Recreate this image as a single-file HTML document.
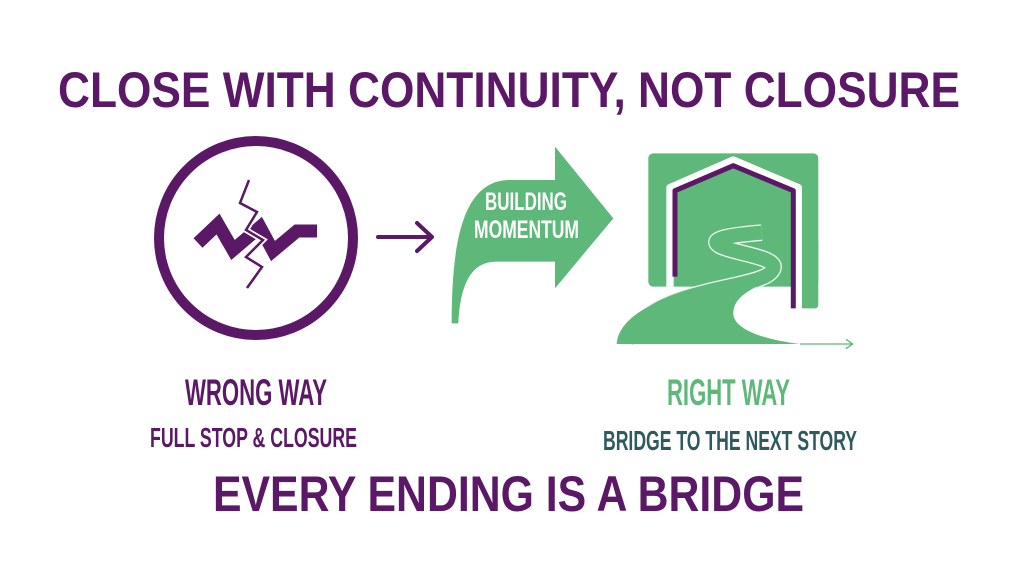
<!DOCTYPE html>
<html><head><meta charset="utf-8"><style>
html,body{margin:0;padding:0;background:#fff}
svg{display:block}
text{font-family:"Liberation Sans",sans-serif;font-weight:bold}
</style></head><body>
<svg width="1024" height="576" viewBox="0 0 1024 576" xmlns="http://www.w3.org/2000/svg">
<rect width="1024" height="576" fill="#fff"/>
<text x="58" y="107" font-size="50" fill="#5a1866" textLength="902" lengthAdjust="spacingAndGlyphs">CLOSE WITH CONTINUITY, NOT CLOSURE</text>

<circle cx="256" cy="238" r="97" fill="none" stroke="#5a1866" stroke-width="10"/>
<polyline points="198,243 218,224 233,250 260,227 273,251 297,231 317,231" fill="none" stroke="#5a1866" stroke-width="13" stroke-linejoin="miter"/>
<polyline points="249,180 240,203 257,212 246,230 263,240 246,257 262,267 247,288" fill="none" stroke="#fff" stroke-width="6"/>
<polyline points="249,180 240,203 257,212 246,230 263,240 246,257 262,267 247,288" fill="none" stroke="#5a1866" stroke-width="2.5"/>

<line x1="378" y1="237" x2="430" y2="237" stroke="#5a1866" stroke-width="4" stroke-linecap="round"/>
<polyline points="417,223 432,237 417,251" fill="none" stroke="#5a1866" stroke-width="4" stroke-linecap="round" stroke-linejoin="round"/>

<g transform="translate(440,140) scale(0.3333)">
  <path d="M345,120 L345,20 L520,235 L345,445 L345,365 L170,365 C100,365 62,420 55,550 L35,550 C35,300 70,120 210,120 Z" fill="#5db87a"/>
  <rect x="625" y="40" width="510" height="400" rx="15" fill="#5db87a"/>
  <rect x="1060" y="300" width="75" height="205" rx="10" fill="#5db87a"/>
  <polyline points="690,440 690,143 880,60 1075,143 1075,505" fill="none" stroke="#fff" stroke-width="22" stroke-linejoin="round"/>
  <polyline points="705,410 705,152 880,77 1060,152 1060,505" fill="none" stroke="#5a1866" stroke-width="15" stroke-linejoin="round"/>
  <!-- road: thick stroked centerline with widening -->
  <path d="M965,278 C880,285 800,295 840,318 C880,340 1010,350 1000,385 C990,420 900,430 800,455 C680,485 600,520 560,605" fill="none" stroke="#eaf6ee" stroke-width="50" stroke-linecap="butt"/>
  <path d="M965,278 C880,285 800,295 840,318 C880,340 1010,350 1000,385 C990,420 900,430 800,455 C680,485 600,520 560,605" fill="none" stroke="#5db87a" stroke-width="42"/>
  <path d="M530,612 C540,510 700,460 850,430 C930,415 1000,400 1020,380 L1010,405 C960,440 880,460 880,520 C880,570 980,600 1080,612 Z" fill="#5db87a"/>
  <line x1="1080" y1="612" x2="1235" y2="612" stroke="#5db87a" stroke-width="4"/>
  <polyline points="1218,598 1238,612 1218,626" fill="none" stroke="#5db87a" stroke-width="4"/>
</g>
<text x="485" y="210" font-size="25" fill="#fff" textLength="82" lengthAdjust="spacingAndGlyphs">BUILDING</text>
<text x="474" y="238" font-size="25" fill="#fff" textLength="105" lengthAdjust="spacingAndGlyphs">MOMENTUM</text>

<text x="185" y="405" font-size="37" fill="#5a1866" textLength="142" lengthAdjust="spacingAndGlyphs">WRONG WAY</text>
<text x="150" y="447" font-size="28" fill="#5a1866" textLength="207" lengthAdjust="spacingAndGlyphs">FULL STOP &amp; CLOSURE</text>
<text x="667" y="405" font-size="37" fill="#5db87a" textLength="123" lengthAdjust="spacingAndGlyphs">RIGHT WAY</text>
<text x="603" y="450" font-size="28" fill="#2e5a5e" textLength="254" lengthAdjust="spacingAndGlyphs">BRIDGE TO THE NEXT STORY</text>
<text x="213" y="511" font-size="50" fill="#5a1866" textLength="591" lengthAdjust="spacingAndGlyphs">EVERY ENDING IS A BRIDGE</text>
</svg>
</body></html>
